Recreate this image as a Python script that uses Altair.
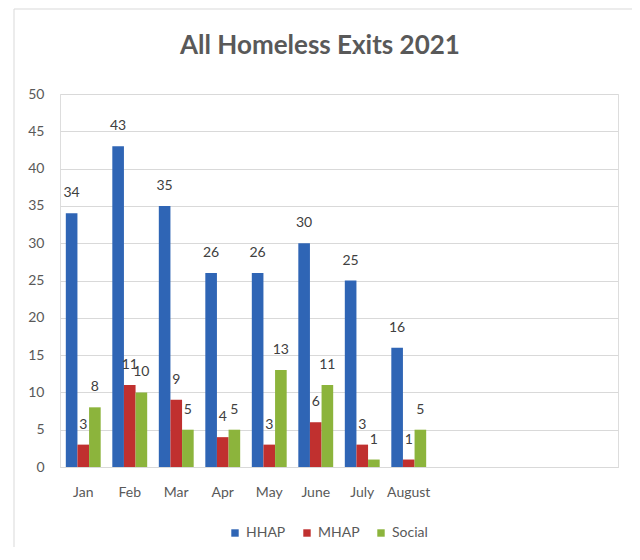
import altair as alt
import pandas as pd

months = ["Jan", "Feb", "Mar", "Apr", "May", "June", "July", "August"]
blank_slots = ["_s9", "_s10", "_s11", "_s12"]
series = ["HHAP", "MHAP", "Social"]
hhap = [34, 43, 35, 26, 26, 30, 25, 16]
mhap = [3, 11, 9, 4, 3, 6, 3, 1]
social = [8, 10, 5, 5, 13, 11, 1, 5]
colors = ["#2f65b5", "#c0302f", "#8cb43c"]

rows = []
for i, m in enumerate(months):
    for s, vals in zip(series, [hhap, mhap, social]):
        rows.append({"month": m, "series": s, "value": vals[i]})
df = pd.DataFrame(rows)

FONT = "Lato"
W, H = 558, 373

x_enc = alt.X(
    "month:N",
    sort=months + blank_slots,
    scale=alt.Scale(domain=months + blank_slots, paddingInner=0.25, paddingOuter=0.125),
    axis=alt.Axis(
        title=None, labelAngle=0, ticks=False, domainColor="#d9d9d9",
        labelColor="#595959", labelFontSize=14, labelPadding=18, labelFont=FONT,
        labelExpr="indexof(datum.value, '_s') == 0 ? '' : datum.value",
    ),
)
y_enc = alt.Y(
    "value:Q",
    scale=alt.Scale(domain=[0, 50], nice=False),
    axis=alt.Axis(
        title=None, values=list(range(0, 51, 5)), ticks=False, domain=False,
        gridColor="#d9d9d9", labelColor="#595959", labelFontSize=14,
        labelPadding=16, labelFont=FONT,
    ),
)

base = alt.Chart(df).encode(
    x=x_enc,
    xOffset=alt.XOffset("series:N", sort=series),
    y=y_enc,
)

bars = base.mark_bar(strokeWidth=0.6).encode(
    color=alt.Color(
        "series:N",
        sort=series,
        scale=alt.Scale(domain=series, range=colors),
        legend=alt.Legend(
            title=None, orient="none", direction="horizontal",
            legendX=168, legendY=432, symbolType="square", symbolSize=55,
            labelFontSize=14, labelColor="#595959", labelFont=FONT,
            columnPadding=14, symbolStrokeWidth=0,
        ),
    ),
)

labels = base.mark_text(dy=-20, fontSize=14, color="#404040", font=FONT).encode(
    text="value:Q"
)

frame = alt.Chart(pd.DataFrame({"k": [0]})).mark_rect(
    fill=None, stroke="#d9d9d9", strokeWidth=1
).encode(
    x=alt.value(-46), x2=alt.value(574), y=alt.value(-85), y2=alt.value(459)
)

chart = alt.layer(frame, bars, labels).properties(
    width=W,
    height=H,
    title=alt.TitleParams(
        "All Homeless Exits 2021", fontSize=26, fontWeight="bold",
        color="#595959", font=FONT, anchor="middle", dx=-19, dy=50, offset=0,
    ),
    autosize=alt.AutoSizeParams(type="none"),
    padding={"left": 52, "top": 86, "right": 14, "bottom": 80},
).configure_view(stroke=None).configure(background="white")

chart.save("out.html", embed_options={"renderer": "svg", "actions": False})
